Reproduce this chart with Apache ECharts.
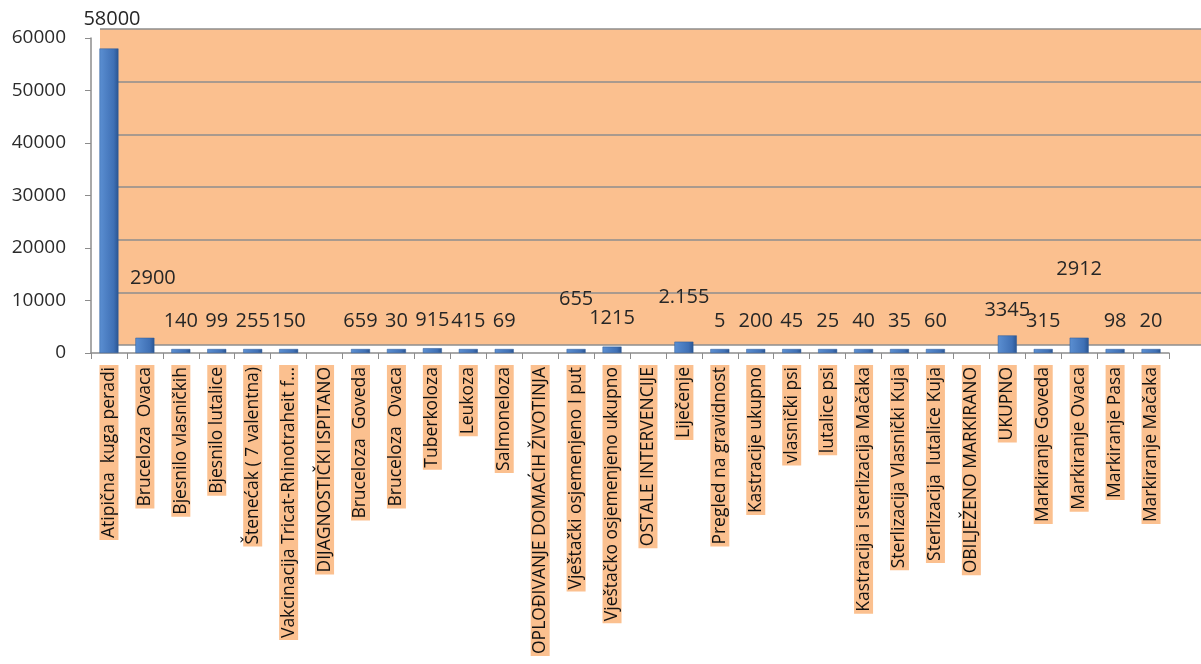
<!DOCTYPE html>
<html>
<head>
<meta charset="utf-8">
<script src="https://cdn.jsdelivr.net/npm/echarts@6/dist/echarts.min.js"></script>
<style>
html,body{margin:0;padding:0;background:#fff;}
#chart{width:1201px;height:664px;}
</style>
</head>
<body>
<div id="chart"></div>
<script>
const categories = [
  'Atipična  kuga peradi', 'Bruceloza  Ovaca', 'Bjesnilo vlasničkih', 'Bjesnilo lutalice',
  'Štenećak ( 7 valentna)', 'Vakcinacija Tricat-Rhinotraheit f...', 'DIJAGNOSTIČKI ISPITANO',
  'Bruceloza  Goveda', 'Bruceloza  Ovaca', 'Tuberkoloza', 'Leukoza', 'Salmoneloza',
  'OPLOĐIVANJE DOMAĆIH ŽIVOTINJA', 'Vještački osjemenjeno I put', 'Vještačko osjemenjeno ukupno',
  'OSTALE INTERVENCIJE', 'Liječenje', 'Pregled na gravidnost', 'Kastracije ukupno',
  'vlasnički psi', 'lutalice psi', 'Kastracija i sterlizacija Mačaka', 'Sterlizacija Vlasnički Kuja',
  'Sterlizacija  lutalice Kuja', 'OBILJEŽENO MARKIRANO', 'UKUPNO', 'Markiranje Goveda',
  'Markiranje Ovaca', 'Markiranje Pasa', 'Markiranje Mačaka'
];
const values = [58000, 2900, 140, 99, 255, 150, null, 659, 30, 915, 415, 69, null, 655, 1215,
  null, 2155, 5, 200, 45, 25, 40, 35, 60, null, 3345, 315, 2912, 98, 20];
const valueText = ['58000', '2900', '140', '99', '255', '150', '', '659', '30', '915', '415', '69', '',
  '655', '1215', '', '2.155', '5', '200', '45', '25', '40', '35', '60', '', '3345', '315', '2912', '98', '20'];
const yTicks = [0, 10000, 20000, 30000, 40000, 50000, 60000];

// label placement tweaks (as dragged in the original)
const labelNudge = {0: [3, -14], 1: [8, -44], 13: [0, -35], 16: [0, -29], 25: [0, -10], 27: [0, -53]};
const defaultNudge = [0, -13];

const FONT = '"Open Sans", sans-serif';
const seriesData = values.map((v, i) => ({
  value: v,
  label: { offset: labelNudge[i] || defaultNudge }
}));

const chart = echarts.init(document.getElementById('chart'));
chart.setOption({
  animation: false,
  backgroundColor: '#ffffff',
  grid: [
    { left: 100, right: 0, top: 29, bottom: 319, show: true, backgroundColor: '#FBC08F', borderWidth: 0 },
    { left: 91, right: 32, top: 38, bottom: 311 }
  ],
  xAxis: [
    { gridIndex: 0, type: 'value', min: 0, max: 1, show: false },
    {
      gridIndex: 1, type: 'category', data: categories,
      axisLine: { show: true, lineStyle: { color: '#8c8c8c', width: 1.5 } },
      axisTick: { show: true, interval: 0, length: 6, lineStyle: { color: '#8c8c8c' } },
      axisLabel: {
        interval: 0, rotate: 90, margin: 12, fontFamily: FONT, fontSize: 17.5, color: '#111',
        backgroundColor: '#FBC08F', padding: [1, 2, 0, 2]
      }
    }
  ],
  yAxis: [
    {
      gridIndex: 0, type: 'value', min: yTicks[0], max: yTicks[yTicks.length - 1], interval: 10000,
      axisLine: { show: false }, axisTick: { show: false }, axisLabel: { show: false },
      splitLine: { show: true, lineStyle: { color: '#8e8e8e', width: 1.6 } }
    },
    {
      gridIndex: 1, type: 'value', min: yTicks[0], max: yTicks[yTicks.length - 1], interval: 10000,
      axisLine: { show: true, lineStyle: { color: '#8c8c8c', width: 1.5 } },
      axisTick: { show: true, length: 6, lineStyle: { color: '#8c8c8c' } },
      axisLabel: { margin: 25, fontFamily: FONT, fontSize: 19, color: '#2b2b2b', formatter: v => String(v) },
      splitLine: { show: false }
    }
  ],
  series: [{
    type: 'bar',
    xAxisIndex: 1, yAxisIndex: 1,
    data: seriesData,
    barWidth: 19,
    barMinHeight: 4,
    itemStyle: {
      color: new echarts.graphic.LinearGradient(0, 0, 1, 0, [
        { offset: 0, color: '#5b8fd2' },
        { offset: 0.75, color: '#3f70b5' },
        { offset: 1, color: '#2a5490' }
      ]),
      borderColor: '#2c5a98', borderWidth: 0.5
    },
    label: {
      show: true, position: 'top', distance: 5,
      fontFamily: FONT, fontSize: 20, color: '#262626',
      formatter: p => valueText[p.dataIndex]
    }
  }]
});
</script>
</body>
</html>
